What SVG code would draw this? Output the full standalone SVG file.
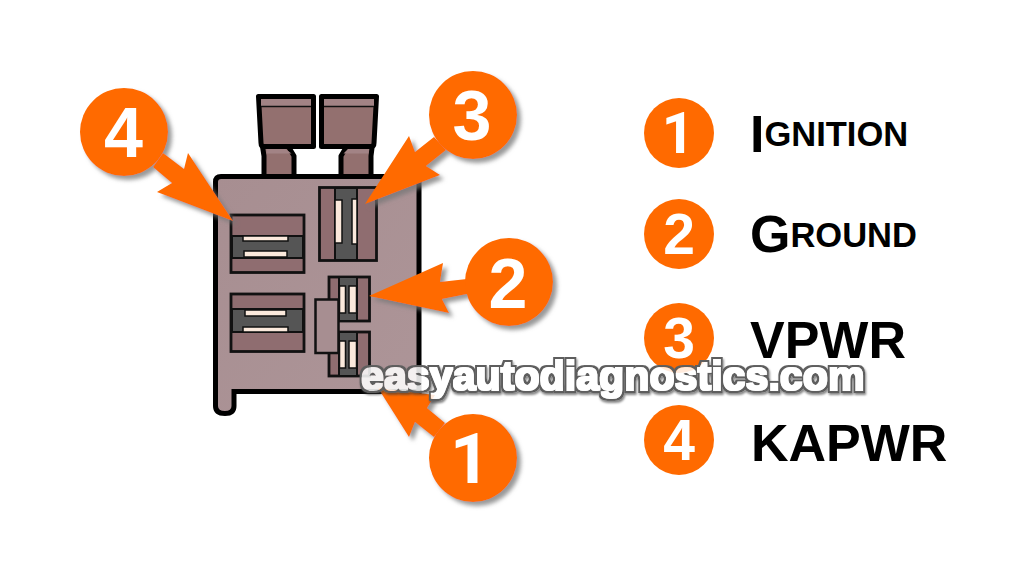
<svg xmlns="http://www.w3.org/2000/svg" width="1024" height="576" viewBox="0 0 1024 576">
<defs>
<linearGradient id="bodyG" x1="0" y1="0" x2="1" y2="1"><stop offset="0" stop-color="#a78e91"/><stop offset="1" stop-color="#ad9598"/></linearGradient>
<filter id="sh" x="-20%" y="-20%" width="150%" height="150%"><feDropShadow dx="4" dy="4" stdDeviation="2.2" flood-color="#777" flood-opacity=".75"/></filter>
<filter id="wf" x="-3%" y="-20%" width="106%" height="150%" color-interpolation-filters="sRGB">
<feMorphology in="SourceAlpha" operator="dilate" radius="1" result="fat"/>
<feMorphology in="SourceAlpha" operator="dilate" radius="3" result="big"/>
<feGaussianBlur in="big" stdDeviation=".5" result="bigS"/>
<feComposite in="bigS" in2="fat" operator="out" result="ring"/>
<feFlood flood-color="#5e5e5e" result="gr"/>
<feComposite in="gr" in2="ring" operator="in" result="ringC"/>
<feFlood flood-color="#fff" flood-opacity=".86" result="wh"/>
<feGaussianBlur in="fat" stdDeviation=".35" result="fatS"/>
<feComposite in="wh" in2="fatS" operator="in" result="fatC"/>
<feOffset in="big" dx="1" dy="2" result="off"/>
<feGaussianBlur in="off" stdDeviation="1" result="offB"/>
<feFlood flood-color="#333" flood-opacity=".6" result="dk"/>
<feComposite in="dk" in2="offB" operator="in" result="shC"/>
<feComposite in="shC" in2="big" operator="out" result="shO"/>
<feMerge><feMergeNode in="shO"/><feMergeNode in="ringC"/><feMergeNode in="fatC"/></feMerge>
</filter>
</defs>
<style>
.blade{fill:#93706f;stroke:#000;stroke-width:5;stroke-linejoin:round}
.cap{fill:#a28385}
.capl{stroke:#111;stroke-width:1.5;fill:none}
.cav{fill:#8f6d70;stroke:#111;stroke-width:2.8}
.dark{fill:#555;stroke:#111;stroke-width:2}
.slot{fill:#fbe9dc;stroke:#111;stroke-width:1.5}
.ar{fill:#ff6a00}
.num{font-family:"Liberation Sans",Arial,sans-serif;font-weight:700;fill:#fff;text-anchor:middle}
.one{font-family:Roboto,"Liberation Sans",sans-serif}
.big{font-size:70px}
.leg{font-size:57px}
.lab{font-family:"Liberation Sans",Arial,sans-serif;font-weight:700;fill:#000;font-size:52px}
.sm{font-size:34.5px}
.wm{font-family:"Liberation Sans",Arial,sans-serif;font-weight:700;font-size:41.2px;fill:#000}
</style>
<rect width="1024" height="576" fill="#fff"/>
<g id="connector">
<g id="terminals">
<path class="blade" d="M261.500 140L264 156V178H294V156L288 146H264Z"/>
<path class="blade" d="M347 146L341 156V178H371V156L373 140Z"/>
<path class="blade" d="M258.500 96.500H313.500V146.500H264Q261 146.500 261 143Z"/>
<path class="blade" d="M321.500 96.500H376.500L374 143Q374 146.500 371 146.500H321.500Z"/>
<path class="cap" d="M266.500 149H285.500L291.500 153.500H266.500Z"/>
<path class="cap" d="M348 149H369L368.500 153.500H343.500Z"/>
<rect class="cap" x="261" y="99" width="50" height="7"/>
<rect class="cap" x="324" y="99" width="50" height="7"/>
<path class="capl" d="M261 106.500H311M324 106.500H374"/>
</g>
<path id="body" d="M221 176.500H419V391.500H234V406Q234 413.500 225 413.500Q215.500 413.500 215.500 406V182Q215.500 176.500 221 176.500Z" fill="url(#bodyG)" stroke="#000" stroke-width="5"/>
<g id="cavityA"><rect class="cav" x="231" y="215" width="73" height="57.500"/><rect class="dark" x="232" y="236" width="71" height="22"/><rect class="slot" x="243" y="236" width="45" height="5"/><rect class="slot" x="244" y="251" width="43" height="6"/></g>
<g id="cavityB"><rect class="cav" x="319.500" y="187.500" width="57" height="73"/><rect class="dark" x="335" y="188" width="22" height="72"/><rect class="slot" x="335" y="200" width="7" height="43"/><rect class="slot" x="352" y="199" width="5" height="45"/></g>
<g id="cavityC"><rect class="cav" x="231" y="294" width="73" height="57.500"/><rect class="dark" x="232" y="309" width="71" height="23"/><rect class="slot" x="245" y="310" width="41" height="6"/><rect class="slot" x="243" y="327" width="45" height="5"/></g>
<g id="cavityD"><rect class="cav" x="329" y="277" width="40.500" height="44"/><rect class="dark" x="339" y="277" width="18" height="44"/><rect class="slot" x="339.500" y="286" width="6" height="27"/><rect class="slot" x="349" y="286" width="7.500" height="27"/></g>
<g id="cavityE"><rect class="cav" x="329" y="332" width="40.500" height="44"/><rect class="dark" x="339" y="332" width="18" height="44"/><rect class="slot" x="339.500" y="341" width="6" height="27"/><rect class="slot" x="349" y="341" width="7.500" height="27"/></g>
<rect id="latch" x="315.500" y="299.500" width="23" height="53.500" fill="#a78e91" stroke="#111" stroke-width="2.500"/>
</g>
<g id="connectors">
<g id="arrow4" filter="url(#sh)"><path class="ar" d="M233 221L157 192L172 183L153 167L163 153L184 169L188 153Z"/><circle class="ar" cx="124" cy="132" r="44"/></g>
<g id="arrow3" filter="url(#sh)"><path class="ar" d="M365 204L409 136L415 152L434 137L446 150L426 166L440 175Z"/><circle class="ar" cx="473" cy="115" r="44"/></g>
<g id="arrow2" filter="url(#sh)"><path class="ar" d="M369 296L443 263L440 282L467 279L467 294L442 299L449 313Z"/><circle class="ar" cx="509" cy="282" r="44"/></g>
<g id="arrow1" filter="url(#sh)"><path class="ar" d="M378 388L435 395L427 408L445 423L434 437L415 422L409 437Z"/><circle class="ar" cx="473" cy="458" r="44"/></g>
</g>
<g id="badge4"><text class="num big" x="123.500" y="157">4</text></g>
<g id="badge3"><text class="num big" x="472" y="140">3</text></g>
<g id="badge2"><text class="num big" x="508" y="308">2</text></g>
<g id="badge1"><text class="num big one" x="470" y="483">1</text></g>
<g id="legend1"><circle class="ar" cx="679" cy="133" r="35"/><text class="num leg one" x="678" y="153">1</text><text class="lab" x="750" y="152">I<tspan class="sm" dy="-6">GNITION</tspan></text></g>
<g id="legend2"><circle class="ar" cx="679" cy="234" r="35"/><text class="num leg" x="679" y="254">2</text><text class="lab" x="750" y="252">G<tspan class="sm" dy="-5">ROUND</tspan></text></g>
<g id="legend3"><circle class="ar" cx="679" cy="338" r="35"/><text class="num leg" x="679" y="358">3</text><text class="lab" x="750" y="358">VPWR</text></g>
<g id="legend4"><circle class="ar" cx="679" cy="440" r="35"/><text class="num leg" x="679" y="460">4</text><text class="lab" x="751" y="461">KAPWR</text></g>
<g id="watermark" filter="url(#wf)"><text class="wm" x="361" y="390">easyautodiagnostics.com</text></g>
</svg>
